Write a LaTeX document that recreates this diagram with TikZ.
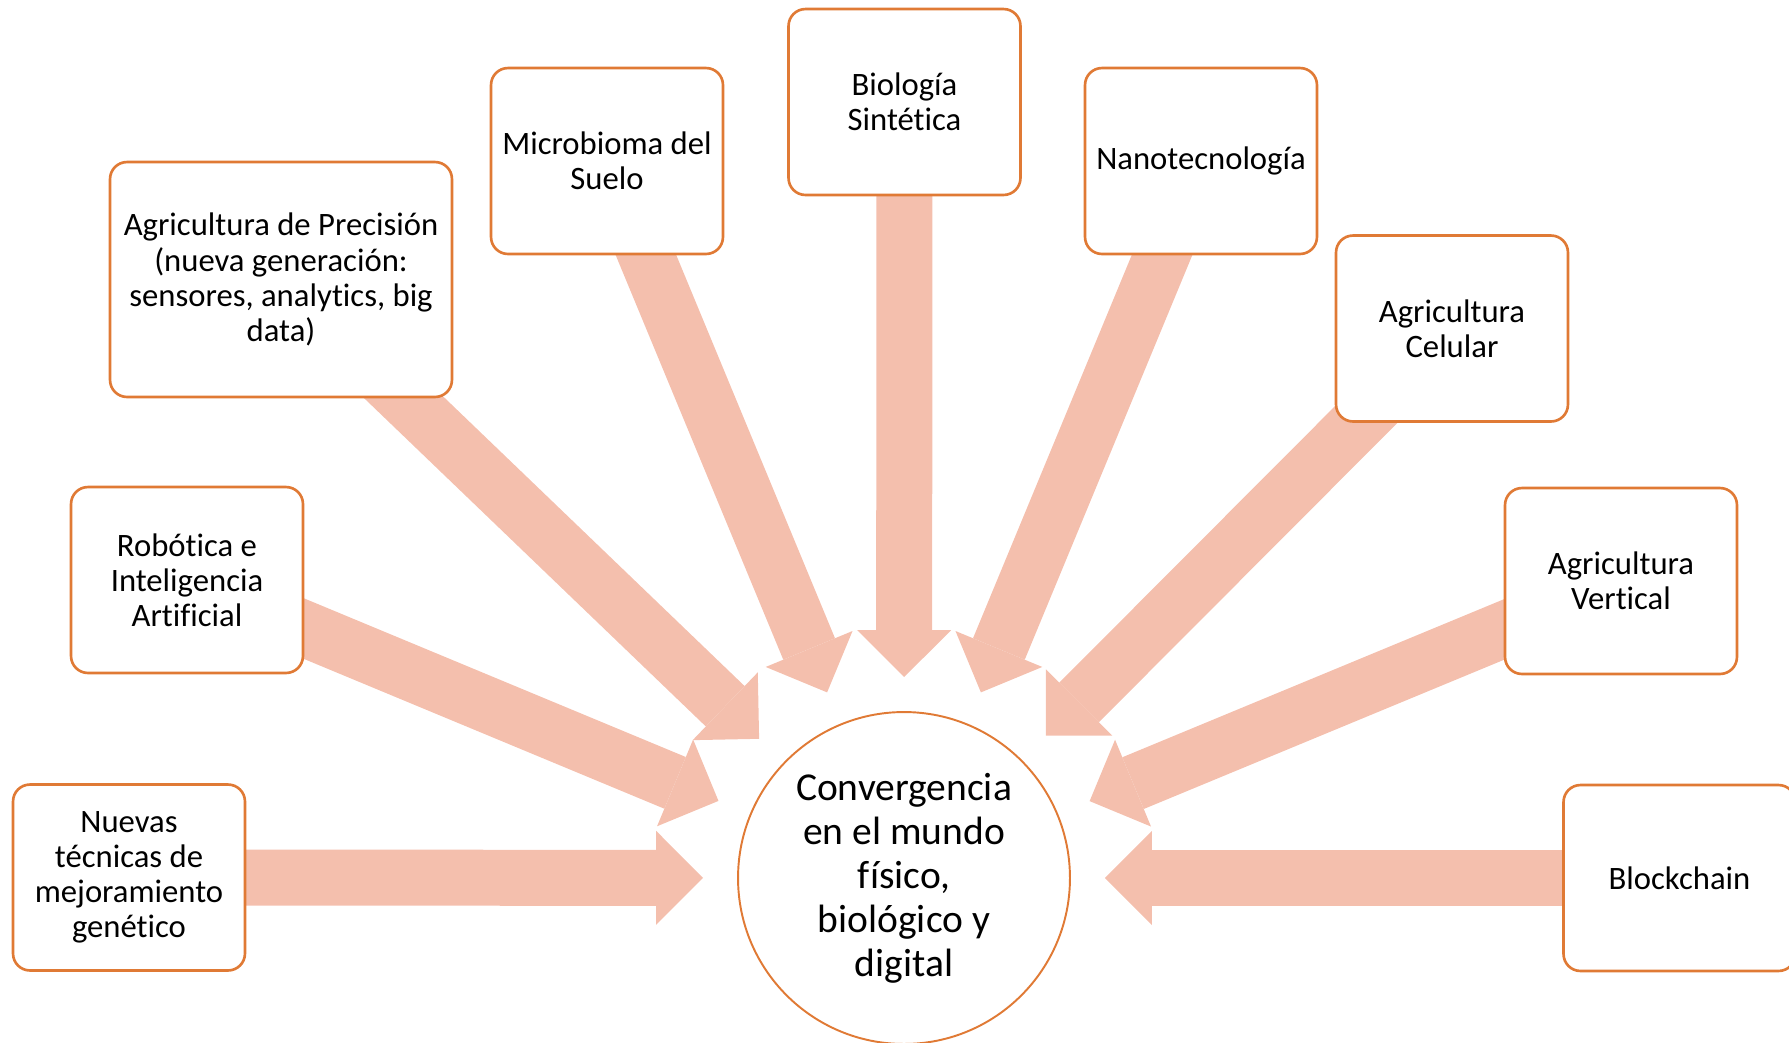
\documentclass[tikz,border=0pt]{standalone}
\usepackage{fontspec}
\setmainfont{Carlito}[Ligatures=NoCommon]
\usepackage{tikz}
\usetikzlibrary{arrows.meta, backgrounds}

\definecolor{borde}{HTML}{E07A35}
\definecolor{flechacol}{HTML}{F4BFAD}

\begin{document}
\begin{tikzpicture}[x=0.02cm, y=-0.02cm,
    caja/.style={draw=borde, line width=1.5pt, fill=white, rounded corners=0.34cm,
      align=center, minimum width=4.64cm, minimum height=3.72cm,
      font=\fontsize{18.6}{20}\selectfont},
    centro/.style={circle, draw=borde, line width=1.1pt, fill=white, align=center,
      minimum size=6.64cm, inner sep=0pt, font=\fontsize{22.5}{25}\selectfont},
    flecha/.style={draw=flechacol, line width=1.12cm, shorten >=0.68cm,
      -{Triangle[length=0.94cm, width=1.88cm, line width=0pt]}}]
  \useasboundingbox (0,0) rectangle (1789,1042);

  % Center
  \node[centro] (conv) at (904,878) {Convergencia\\en el mundo\\físico,\\biológico y\\digital};

  % Boxes, left side
  \node[caja] (nuevas) at (129,877.5) {Nuevas\\técnicas de\\mejoramiento\\genético};
  \node[caja] (robot) at (187,580) {Robótica e\\Inteligencia\\Artificial};
  \node[caja, minimum width=6.84cm, minimum height=4.7cm] (prec) at (281,279.5)
    {Agricultura de Precisión\\(nueva generación:\\sensores, analytics, big\\data)};
  \node[caja] (micro) at (607,161) {Microbioma del\\Suelo};

  % Boxes, top and right side
  \node[caja] (bio) at (904.5,102) {Biología\\Sintética};
  \node[caja] (nano) at (1201,161) {Nanotecnología};
  \node[caja] (celular) at (1452,328.5) {Agricultura\\Celular};
  \node[caja] (vertical) at (1621,581) {Agricultura\\Vertical};
  \node[caja] (block) at (1679.5,878) {Blockchain};

  % Arrows
  \begin{scope}[on background layer]
    \foreach \n in {nuevas, robot, prec, micro, bio, nano, celular, vertical, block}
      \draw[flecha] (\n.center) -- (conv);
  \end{scope}
\end{tikzpicture}
\end{document}
